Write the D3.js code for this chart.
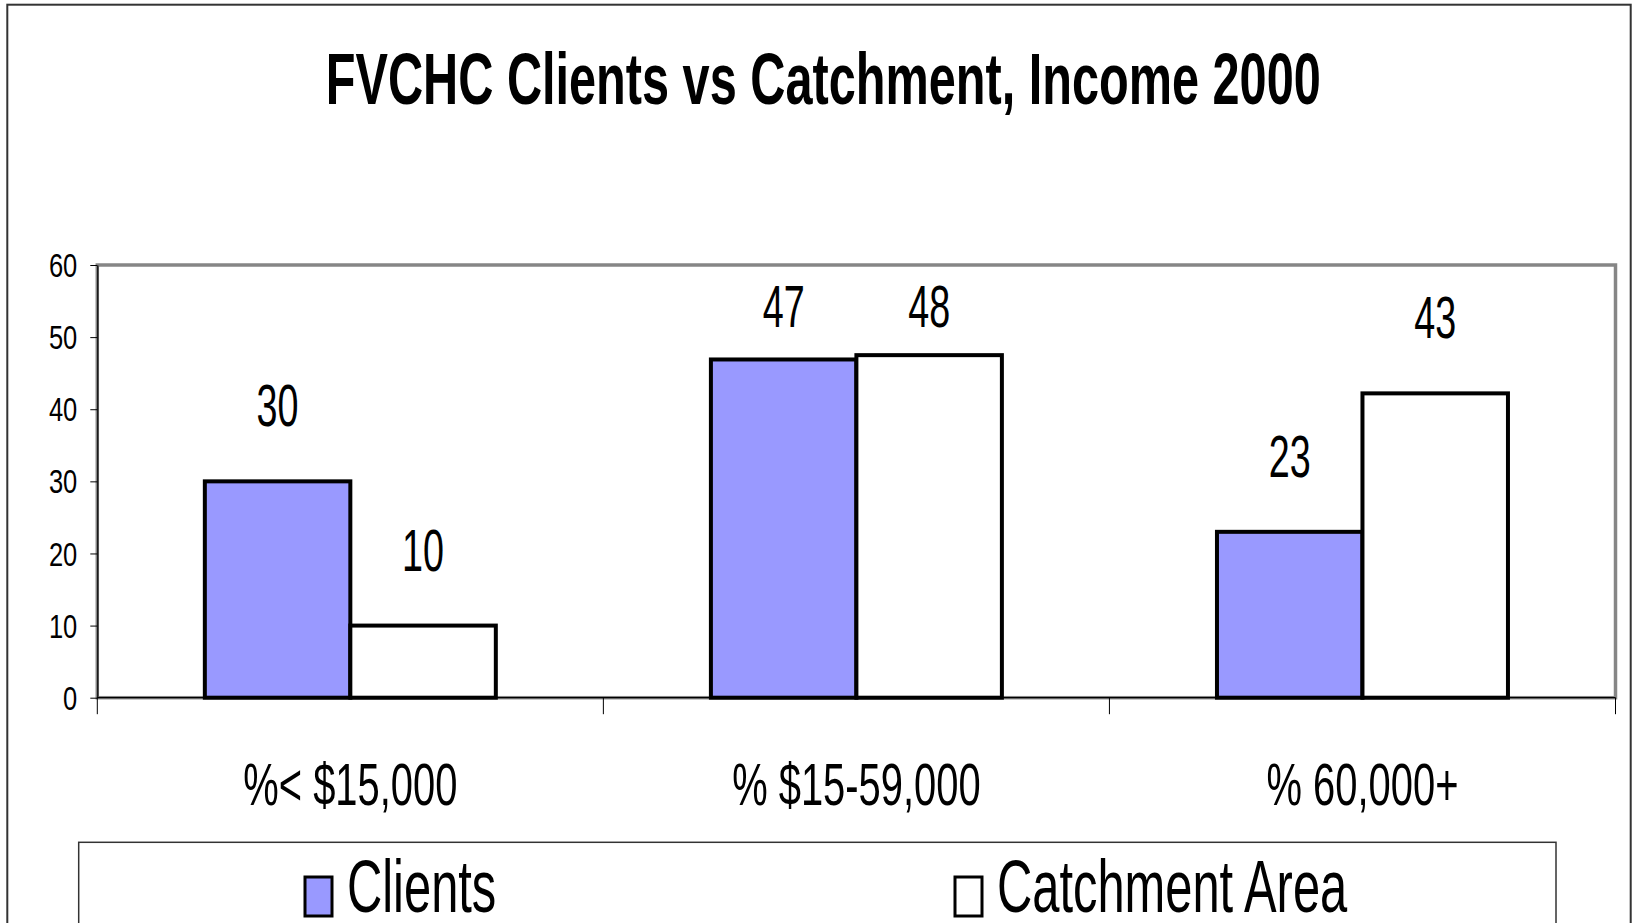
<!DOCTYPE html>
<html>
<head>
<meta charset="utf-8">
<script src="https://cdn.jsdelivr.net/npm/d3@7"></script>
<style>
  body { margin: 0; background: #fff; }
  text { font-family: "Liberation Sans", Arial, sans-serif; fill: #000; }
</style>
</head>
<body>
<svg id="chart" width="1633" height="923"></svg>
<script>
// data
var categories = ["%< $15,000", "% $15-59,000", "% 60,000+"];
var seriesNames = ["Clients", "Catchment Area"];
var clients = [30, 46.9, 23];
var catchment = [10, 47.5, 42.2];
var clientsLabels = ["30", "47", "23"];
var catchmentLabels = ["10", "48", "43"];
var yTicks = [0, 10, 20, 30, 40, 50, 60];
var titleText = "FVCHC Clients vs Catchment, Income 2000";

var colors = {"Clients": "#9999ff", "Catchment Area": "#ffffff"};

var rows = categories.map(function(c, i) {
    return {
        cat: c,
        values: [
            {key: "Clients", v: clients[i], label: clientsLabels[i]},
            {key: "Catchment Area", v: catchment[i], label: catchmentLabels[i]}
        ]
    };
});

var svg = d3.select("#chart"),
    plot = {left: 97.3, right: 1615.5, top: 265, bottom: 697.7};

// squeeze text horizontally, the original font is a very narrow one
function squeeze(sel, k) {
    sel.each(function() {
        var w = this.getComputedTextLength();
        d3.select(this).attr("textLength", w * k).attr("lengthAdjust", "spacingAndGlyphs");
    });
}

var x = d3.scaleBand()
    .domain(categories)
    .range([plot.left, plot.right])
    .paddingInner(0)
    .paddingOuter(0);

var x1 = d3.scaleBand()
    .domain(seriesNames)
    .range([x.bandwidth() * 0.2125, x.bandwidth() * 0.7875]);

var y = d3.scaleLinear()
    .domain([0, 60])
    .range([plot.bottom, plot.top]);

// outer border
svg.append("rect")
    .attr("x", 7.3).attr("y", 4.7)
    .attr("width", 1623.4).attr("height", 1000)
    .attr("fill", "none").attr("stroke", "#333").attr("stroke-width", 2);

// title
svg.append("text")
    .attr("x", 823.3).attr("y", 103.5)
    .attr("text-anchor", "middle")
    .style("font-size", "72px")
    .style("font-weight", "bold")
    .attr("textLength", 995)
    .attr("lengthAdjust", "spacingAndGlyphs")
    .text(titleText);

// plot frame
svg.append("rect")
    .attr("x", plot.left).attr("y", plot.top)
    .attr("width", plot.right - plot.left).attr("height", plot.bottom - plot.top)
    .attr("fill", "#fff").attr("stroke", "#868686").attr("stroke-width", 3.5);

// y axis
var yAxis = svg.append("g")
    .attr("transform", "translate(" + plot.left + ",0)")
    .call(d3.axisLeft(y).tickValues(yTicks).tickSize(7).tickPadding(13).tickSizeOuter(0));
yAxis.select(".domain").attr("stroke", "#000").attr("stroke-width", 1.2);
yAxis.selectAll(".tick line").attr("stroke", "#000");
yAxis.selectAll(".tick text")
    .attr("font-size", null)
    .attr("font-family", null)
    .style("font-size", "34px")
    .attr("dy", "0.34em")
    .call(squeeze, 0.75);

// bottom axis line and category boundary ticks
svg.append("line")
    .attr("x1", plot.left).attr("x2", plot.right)
    .attr("y1", y(0)).attr("y2", y(0))
    .attr("stroke", "#000").attr("stroke-width", 1.2);

var bounds = categories.map(function(c) { return x(c); }).concat([x.range()[1]]);
svg.selectAll(".cat-tick")
    .data(bounds)
    .enter().append("line")
    .attr("class", "cat-tick")
    .attr("x1", function(d) { return d; }).attr("x2", function(d) { return d; })
    .attr("y1", y(0)).attr("y2", y(0) + 16.5)
    .attr("stroke", "#000").attr("stroke-width", 1);

// category labels
var xAxis = svg.append("g")
    .attr("transform", "translate(0," + y(0) + ")")
    .call(d3.axisBottom(x).tickSize(0).tickPadding(65));
xAxis.select(".domain").remove();
xAxis.selectAll(".tick text")
    .attr("font-family", null)
    .style("font-size", "60px")
    .call(squeeze, 0.665);

// bars
var groups = svg.selectAll(".group")
    .data(rows)
    .enter().append("g")
    .attr("class", "group")
    .attr("transform", function(d) { return "translate(" + x(d.cat) + ",0)"; });

groups.selectAll("rect")
    .data(function(d) { return d.values; })
    .enter().append("rect")
    .attr("x", function(d) { return x1(d.key); })
    .attr("y", function(d) { return y(d.v); })
    .attr("width", x1.bandwidth())
    .attr("height", function(d) { return y(0) - y(d.v); })
    .attr("fill", function(d) { return colors[d.key]; })
    .attr("stroke", "#000")
    .attr("stroke-width", 4);

// value labels, pushed down when they would hit the top of the plot
groups.selectAll(".val")
    .data(function(d) { return d.values; })
    .enter().append("text")
    .attr("class", "val")
    .attr("x", function(d) { return x1(d.key) + x1.bandwidth() / 2; })
    .attr("y", function(d) { return Math.max(y(d.v) - 55, y(60) + 61.7); })
    .attr("text-anchor", "middle")
    .style("font-size", "58.5px")
    .text(function(d) { return d.label; })
    .call(squeeze, 0.645);

// legend
svg.append("rect")
    .attr("x", 78.7).attr("y", 842.3)
    .attr("width", 1477.3).attr("height", 200)
    .attr("fill", "none").attr("stroke", "#333").attr("stroke-width", 1.5);

var legendX = {"Clients": 305, "Catchment Area": 955};

var legend = svg.selectAll(".legend")
    .data(seriesNames)
    .enter().append("g")
    .attr("class", "legend")
    .attr("transform", function(d) { return "translate(" + legendX[d] + ",0)"; });

legend.append("rect")
    .attr("x", 0).attr("y", 877)
    .attr("width", 27).attr("height", 39)
    .attr("fill", function(d) { return colors[d]; })
    .attr("stroke", "#000").attr("stroke-width", 3);

legend.append("text")
    .attr("x", 42).attr("y", 912)
    .style("font-size", "74px")
    .text(function(d) { return d; })
    .call(squeeze, 0.66);
</script>
</body>
</html>
